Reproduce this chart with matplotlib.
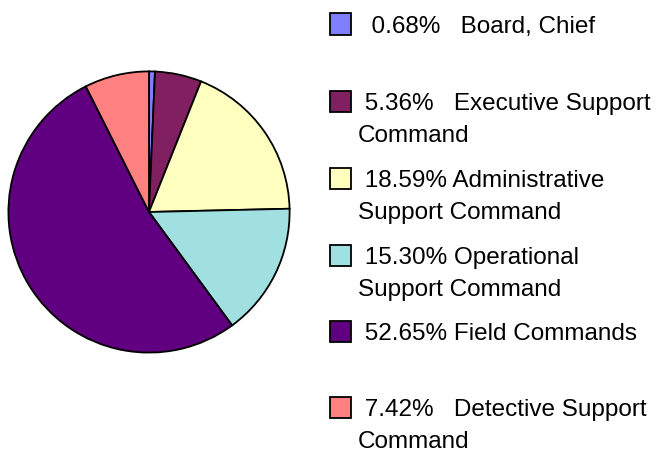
import matplotlib
matplotlib.use("Agg")
import matplotlib.pyplot as plt
from matplotlib.patches import Rectangle

# data
names = ["Board, Chief", "Executive Support\nCommand", "Administrative\nSupport Command",
         "Operational\nSupport Command", "Field Commands", "Detective Support\nCommand"]
pct_labels = ["  0.68%   ", " 5.36%   ", " 18.59% ", " 15.30% ", " 52.65% ", " 7.42%   "]
shares = [0.68, 5.36, 18.59, 15.30, 52.65, 7.42]
colors = ["#8080FF", "#802060", "#FFFFC0", "#A0E0E0", "#600080", "#FF8080"]

plt.rcParams['font.family'] = ['Liberation Sans', 'DejaVu Sans']

W, H = 657, 453
fig = plt.figure(figsize=(W / 100, H / 100), dpi=100)

# pie: centre (149, 212) px, radius 142 px
ax = fig.add_axes([7 / W, (H - 354) / H, 284 / W, 284 / H])
ax.pie(shares, colors=colors, startangle=90, counterclock=False, radius=1,
       wedgeprops=dict(edgecolor='black', linewidth=1.3))
ax.set_xlim(-1.01, 1.01)
ax.set_ylim(-1.01, 1.01)
ax.set_aspect('auto')
ax.axis('off')

# legend drawn by hand, baselines in px from the top of the reference
baselines = [33, 110, 187, 264, 340, 416]
line_gap = 32
sq = 21
for i, (name, pl) in enumerate(zip(names, pct_labels)):
    b = baselines[i]
    fig.patches.append(Rectangle((329.5 / W, (H - b - 1.5) / H), sq / W, sq / H,
                                 transform=fig.transFigure, facecolor=colors[i],
                                 edgecolor='black', linewidth=1.3))
    lines = (pl + name).split("\n")
    for j, line in enumerate(lines):
        fig.text(358 / W, (H - b - j * line_gap) / H, line, fontsize=17.5,
                 ha='left', va='baseline', color='black')

fig.savefig("out.png", dpi=100)
